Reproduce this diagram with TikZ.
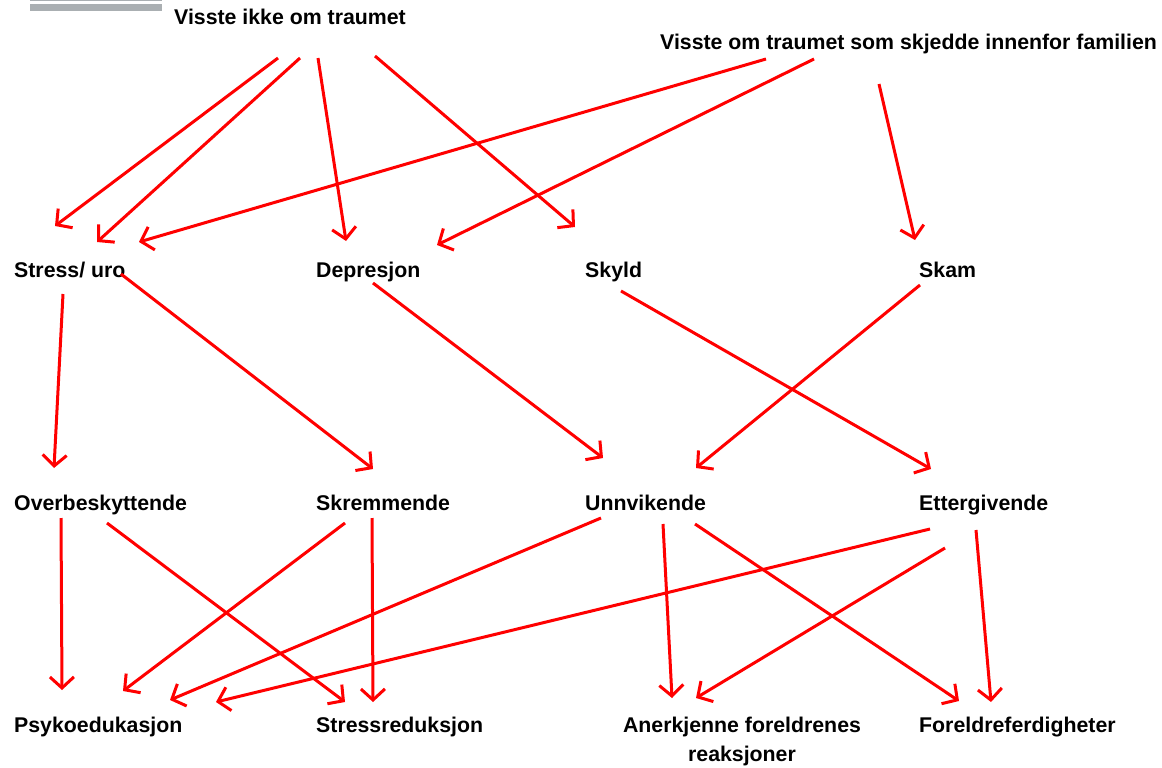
\documentclass[tikz,border=0pt]{standalone}
\usepackage{fontspec}
\setmainfont{Liberation Sans}
\usetikzlibrary{arrows.meta}
\definecolor{bargray}{RGB}{170,175,178}

\begin{document}
\begin{tikzpicture}[x=1pt,y=-1pt,>={Straight Barb[length=11pt,width=24pt]},
                    every edge/.style={draw=red,line width=3pt,->},
                    lbl/.style={anchor=base west,inner sep=0pt,
                      font=\fontsize{21.3}{29}\selectfont\bfseries}]
  \useasboundingbox (0,0) rectangle (1162,768);

  % grey bars, top left
  \fill[bargray] (30,0) rectangle (162,1.5);
  \fill[bargray] (30,4) rectangle (162,11);

  \node[lbl] (VI) at (174,25)  {Visste ikke om traumet};
  \node[lbl] (VO) at (660,50)  {Visste om traumet som skjedde innenfor familien};

  \node[lbl] (St) at (14,277)  {Stress/ uro};
  \node[lbl] (De) at (316,277) {Depresjon};
  \node[lbl] (Sy) at (585,277) {Skyld};
  \node[lbl] (Sk) at (919,277) {Skam};

  \node[lbl] (Ov) at (14,510)  {Overbeskyttende};
  \node[lbl] (Sr) at (316,510) {Skremmende};
  \node[lbl] (Un) at (585,510) {Unnvikende};
  \node[lbl] (Et) at (919,510) {Ettergivende};

  \node[lbl] (Ps) at (14,732)  {Psykoedukasjon};
  \node[lbl] (Sd) at (316,732) {Stressreduksjon};
  \node[lbl,anchor=north,align=center] (An) at (742,717) {Anerkjenne foreldrenes\\reaksjoner};
  \node[lbl] (Fo) at (919,732) {Foreldreferdigheter};

  % arrow ends
  \coordinate (VI1) at (278,58);  \coordinate (VI2) at (300,58);
  \coordinate (VI3) at (318,58);  \coordinate (VI4) at (375,56);
  \coordinate (VO1) at (766,59);  \coordinate (VO2) at (814,59);
  \coordinate (VO3) at (879,84);
  \coordinate (St1) at (55,226);  \coordinate (St2) at (97,242);
  \coordinate (St3) at (139,242); \coordinate (De1) at (346,241);
  \coordinate (De2) at (437,245); \coordinate (Sy1) at (575,227);
  \coordinate (Sk1) at (915,240);
  \coordinate (St4) at (63,294);  \coordinate (St5) at (121,274);
  \coordinate (De3) at (373,283); \coordinate (Sy2) at (621,291);
  \coordinate (Sk2) at (920,285);
  \coordinate (Ov1) at (54,468);  \coordinate (Sr1) at (373,469);
  \coordinate (Un1) at (603,458); \coordinate (Un2) at (696,468);
  \coordinate (Et1) at (931,469);
  \coordinate (Ov2) at (61,518);  \coordinate (Ov3) at (107,523);
  \coordinate (Sr2) at (345,523); \coordinate (Sr3) at (372,518);
  \coordinate (Un3) at (601,518); \coordinate (Un4) at (663,524);
  \coordinate (Un5) at (695,524);
  \coordinate (Et2) at (930,529); \coordinate (Et3) at (945,548);
  \coordinate (Et4) at (976,530);
  \coordinate (Ps1) at (62,690);  \coordinate (Ps2) at (123,691);
  \coordinate (Ps3) at (170,700); \coordinate (Ps4) at (216,702);
  \coordinate (Sd1) at (345,702); \coordinate (Sd2) at (373,702);
  \coordinate (An1) at (672,698); \coordinate (An2) at (696,698);
  \coordinate (Fo1) at (959,701); \coordinate (Fo2) at (991,702);

  \path (VI1) edge (St1)
        (VI2) edge (St2)
        (VI3) edge (De1)
        (VI4) edge (Sy1)
        (VO1) edge (St3)
        (VO2) edge (De2)
        (VO3) edge (Sk1)
        (St4) edge (Ov1)
        (St5) edge (Sr1)
        (De3) edge (Un1)
        (Sy2) edge (Et1)
        (Sk2) edge (Un2)
        (Ov2) edge (Ps1)
        (Ov3) edge (Sd1)
        (Sr2) edge (Ps2)
        (Sr3) edge (Sd2)
        (Un3) edge (Ps3)
        (Un4) edge (An1)
        (Un5) edge (Fo1)
        (Et2) edge (Ps4)
        (Et3) edge (An2)
        (Et4) edge (Fo2);
\end{tikzpicture}
\end{document}
